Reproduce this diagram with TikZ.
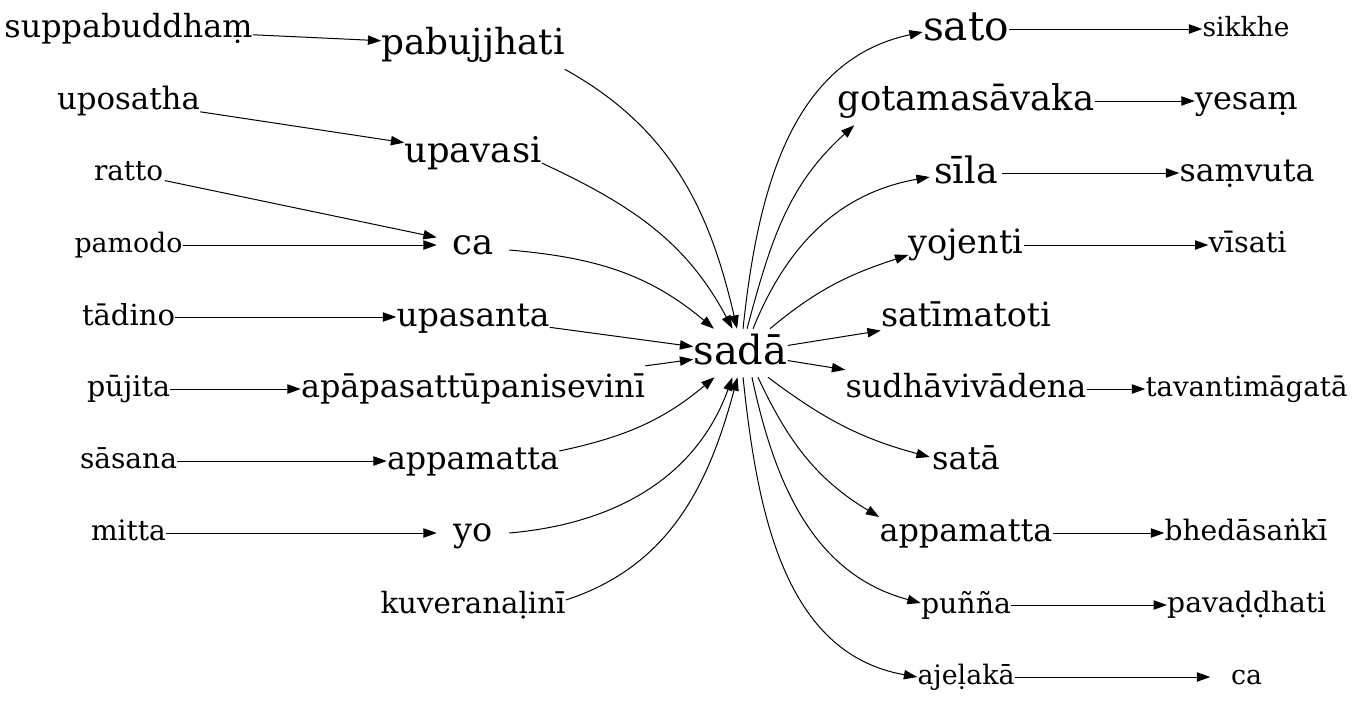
\documentclass[tikz,border=0pt]{standalone}
\usepackage{fontspec}
\setmainfont{DejaVu Serif}
\usetikzlibrary{arrows.meta}
\newsavebox\measbox
\newlength\measlen
\newcommand\wfit[2]{%
  \sbox\measbox{\fontsize{10pt}{12pt}\selectfont #2}%
  \setlength\measlen{\wd\measbox}%
  \pgfmathsetmacro\fitsize{7.5*(#1+2)/\measlen}%
  \fontsize{\fitsize pt}{\fitsize pt}\selectfont\vphantom{bdp}#2}
\begin{document}
\begin{tikzpicture}[x=0.75pt,y=-0.75pt,
  w/.style={inner sep=0pt,minimum width=54pt,minimum height=36pt},
  arr/.style={-{Triangle[length=10pt,width=7pt]},line width=0.75pt}]
\useasboundingbox (0,0) rectangle (1356,707);
% left column
\node[w] (l1) at (128.5,29)  {\wfit{246}{suppabuddhaṃ}};
\node[w] (l2) at (128.5,101) {\wfit{141}{uposatha}};
\node[w] (l3) at (128.5,173) {\wfit{67}{ratto}};
\node[w] (l4) at (128.5,245) {\wfit{106}{pamodo}};
\node[w] (l5) at (128.5,317) {\wfit{91}{tādino}};
\node[w] (l6) at (128.5,389) {\wfit{81}{pūjita}};
\node[w] (l7) at (128.5,461) {\wfit{95}{sāsana}};
\node[w] (l8) at (128.5,533) {\wfit{73}{mitta}};
% middle column
\node[w] (m1) at (473,45)  {\wfit{181}{pabujjhati}};
\node[w] (m2) at (473,153) {\wfit{135}{upavasi}};
\node[w] (m3) at (473,245) {\wfit{39}{ca}};
\node[w] (m4) at (473,317) {\wfit{151}{upasanta}};
\node[w] (m5) at (473,389) {\wfit{342}{apāpasattūpanisevinī}};
\node[w] (m6) at (473,461) {\wfit{170}{appamatta}};
\node[w] (m7) at (473,533) {\wfit{37}{yo}};
\node[w] (m8) at (473,605) {\wfit{183}{kuveranaḷinī}};
% centre
\node[w] (s) at (740.5,353) {\wfit{92}{sadā}};
% right column
\node[w] (r1)  at (966,29)  {\wfit{84}{sato}};
\node[w] (r2)  at (966,101) {\wfit{255}{gotamasāvaka}};
\node[w] (r3)  at (966,173) {\wfit{61.6}{sīla}};
\node[w] (r4)  at (966,245) {\wfit{112.8}{yojenti}};
\node[w] (r5)  at (966,317) {\wfit{168}{satīmatoti}};
\node[w] (r6)  at (966,389) {\wfit{239}{sudhāvivādena}};
\node[w] (r7)  at (966,461) {\wfit{65.6}{satā}};
\node[w] (r8)  at (966,533) {\wfit{171}{appamatta}};
\node[w] (r9)  at (966,605) {\wfit{88}{puñña}};
\node[w] (r10) at (966,677) {\wfit{95}{ajeḷakā}};
% far right column
\node[w] (q1) at (1246,29)   {\wfit{85}{sikkhe}};
\node[w] (q2) at (1246.3,101) {\wfit{100.7}{yesaṃ}};
\node[w] (q3) at (1247,173)  {\wfit{133}{saṃvuta}};
\node[w] (q4) at (1247.6,245) {\wfit{76}{vīsati}};
\node[w] (q5) at (1246.5,389) {\wfit{200}{tavantimāgatā}};
\node[w] (q6) at (1246,533)  {\wfit{161}{bhedāsaṅkī}};
\node[w] (q7) at (1246.7,605) {\wfit{157}{pavaḍḍhati}};
\node[w] (q8) at (1246.5,677) {\wfit{29}{ca}};
% left -> middle
\draw[arr] (l1) -- (m1);
\draw[arr] (l2) -- (m2);
\draw[arr] (l3) -- (m3);
\draw[arr] (l4) -- (m3);
\draw[arr] (l5) -- (m4);
\draw[arr] (l6) -- (m5);
\draw[arr] (l7) -- (m6);
\draw[arr] (l8) -- (m7);
% middle -> sada
\draw[arr] (m1.south east) to[out=-29,in=103] ([xshift=-2.6pt]s.north);
\draw[arr] ([yshift=-7.5pt]m2.east) to[out=-25,in=118] ([xshift=-6pt]s.north);
\draw[arr] ([yshift=-3.75pt]m3.east) to[out=-5,in=140] ([xshift=-19.9pt]s.north);
\draw[arr] (m4) -- (s);
\draw[arr] (m5) -- (s);
\draw[arr] ([yshift=7.5pt]m6.east) to[out=12,in=-140] ([xshift=-19.5pt]s.south);
\draw[arr] (m7.east) to[out=5,in=-110] ([xshift=-6pt]s.south);
\draw[arr] ([yshift=3.75pt]m8.east) to[out=18,in=-105] ([xshift=-2.25pt]s.south);
% sada -> right
\draw[arr] ([xshift=1.9pt]s.north) to[out=84,in=192] ([yshift=-2.25pt]r1.west);
\draw[arr] ([xshift=4.9pt]s.north) to[out=75,in=222] ([xshift=12.75pt]r2.south west);
\draw[arr] ([xshift=9.4pt]s.north) to[out=68,in=190] ([yshift=-3pt]r3.west);
\draw[arr] ([xshift=22.1pt]s.north) to[out=40,in=198] ([yshift=-7.5pt]r4.west);
\draw[arr] (s) -- (r5);
\draw[arr] (s) -- (r6);
\draw[arr] ([xshift=20.6pt]s.south) to[out=-37,in=165] ([yshift=3pt]r7.west);
\draw[arr] ([xshift=13.1pt]s.south) to[out=-65,in=149] ([yshift=12pt]r8.west);
\draw[arr] ([xshift=8.6pt]s.south) to[out=-78,in=165] ([yshift=1.5pt]r9.west);
\draw[arr] ([xshift=1.9pt]s.south) to[out=-84,in=170] (r10.west);
% right -> far right
\draw[arr] (r1) -- (q1);
\draw[arr] (r2) -- (q2);
\draw[arr] (r3) -- (q3);
\draw[arr] (r4) -- (q4);
\draw[arr] (r6) -- (q5);
\draw[arr] (r8) -- (q6);
\draw[arr] (r9) -- (q7);
\draw[arr] (r10) -- (q8);
\end{tikzpicture}
\end{document}
